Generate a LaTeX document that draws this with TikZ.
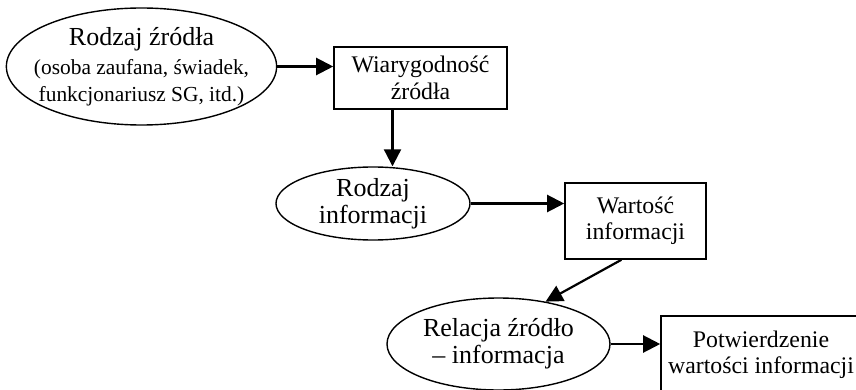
\documentclass[tikz,border=0pt]{standalone}
\usepackage{fontspec}
\setmainfont{Liberation Serif}
\usetikzlibrary{positioning, shapes.geometric, arrows.meta}
\newcommand{\smtxt}{\fontsize{21.4}{24}\selectfont}

\begin{document}
\begin{tikzpicture}[x=1pt, y=-1pt,
  ell/.style={draw, ellipse, line width=1.4pt, inner sep=0pt, align=center, font=\fontsize{26}{27}\selectfont},
  box/.style={draw, rectangle, line width=1.6pt, inner sep=0pt, align=center, font=\fontsize{23.8}{26.5}\selectfont},
  arr/.style={-{Triangle[length=17pt, width=17pt]}, line width=2.2pt}
]
  \useasboundingbox (0,0) rectangle (856,390);

  \node[ell, inner xsep=-12pt, minimum width=270pt, minimum height=117pt] (rodzajzr) at (141.5,66.5)
    {Rodzaj źródła\\[2pt]\smtxt (osoba zaufana, świadek,\\\smtxt funkcjonariusz SG, itd.)};
  \node[box, minimum width=173pt, minimum height=62pt] (wiar) at (420.5,78) {Wiarygodność\\źródła};
  \node[ell, minimum width=194pt, minimum height=73pt] (rodzajinf) at (373,203.5) {Rodzaj\\informacji};
  \node[box, minimum width=141pt, minimum height=76pt] (wart) at (635.5,221) {Wartość\\informacji};
  \node[ell, minimum width=223pt, minimum height=92pt] (relacja) at (498.5,344) {Relacja źródło\\– informacja};
  \node[box, minimum width=200pt, minimum height=78pt] (potw) at (761,355) {Potwierdzenie\\wartości informacji};

  \draw[arr] (rodzajzr.east) -- (rodzajzr.east -| wiar.west);
  \draw[arr] ([xshift=-28pt]wiar.south) -- ([xshift=-28pt]wiar.south |- rodzajinf.north);
  \draw[arr] (rodzajinf.east) -- (rodzajinf.east -| wart.west);
  \draw[arr] (wart.-110) -- (relacja.42);
  \draw[arr] (relacja.east) -- (relacja.east -| potw.west);
\end{tikzpicture}
\end{document}
